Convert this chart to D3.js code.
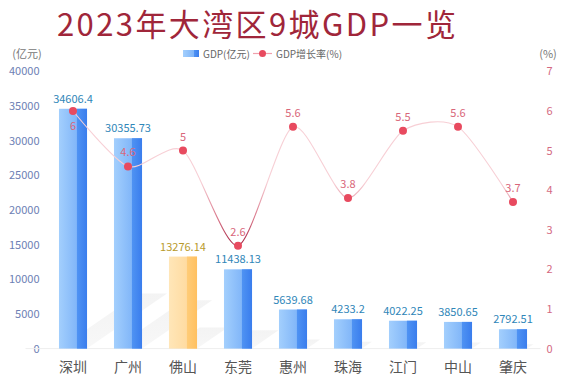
<!DOCTYPE html>
<html><head><meta charset="utf-8">
<script src="https://cdn.jsdelivr.net/npm/d3@7"></script>
<style>body{margin:0;background:#fff}svg{display:block}</style>
</head><body>
<svg id="c" width="567" height="378"></svg>
<script>
const cities = ["深圳","广州","佛山","东莞","惠州","珠海","江门","中山","肇庆"];
const gdp = [34606.4,30355.73,13276.14,11438.13,5639.68,4233.2,4022.25,3850.65,2792.51];
const growth = [6,4.6,5,2.6,5.6,3.8,5.5,5.6,3.7];
const leftTicks = [0,5000,10000,15000,20000,25000,30000,35000,40000];
const rightTicks = [0,1,2,3,4,5,6,7];
const highlight = "佛山";

const F = "'Noto Sans CJK SC','Noto Sans',sans-serif";
const svg = d3.select("#c");
const L=45.5, R=540.5, T=71.4, B=348.6;

const x = d3.scaleBand().domain(cities).range([L,R]).paddingInner(0.49).paddingOuter(0.245);
const y = d3.scaleLinear().domain([0,40000]).range([B,T]);
const y2 = d3.scaleLinear().domain([0,7]).range([B,T]);

const defs = svg.append("defs");
function hgrad(id,c0,c1){const g=defs.append("linearGradient").attr("id",id).attr("x1",0).attr("x2",1).attr("y1",0).attr("y2",0);
 g.append("stop").attr("offset",0).attr("stop-color",c0);g.append("stop").attr("offset",1).attr("stop-color",c1);}
hgrad("bL","#a3cffd","#6ea8f6");
hgrad("bR","#4f93f3","#3a7ded");
hgrad("oL","#ffe6b8","#ffd594");
hgrad("oR","#ffcc78","#ffc060");
const sg=defs.append("linearGradient").attr("id","sh").attr("x1",0).attr("x2",0).attr("y1",1).attr("y2",0);
sg.append("stop").attr("offset",0).attr("stop-color","#e4e4e4").attr("stop-opacity",0.35);
sg.append("stop").attr("offset",1).attr("stop-color","#ececec").attr("stop-opacity",0.8);
const lg=defs.append("linearGradient").attr("id","lg").attr("gradientUnits","userSpaceOnUse").attr("x1",0).attr("x2",0).attr("y1",y2(2.5)).attr("y2",y2(4.2));
lg.append("stop").attr("offset",0).attr("stop-color","#9c1535");
lg.append("stop").attr("offset",0.45).attr("stop-color","#d87488");
lg.append("stop").attr("offset",1).attr("stop-color","#f7cfd5");

// title
svg.append("text").attr("x",57).attr("y",36).attr("font-family",F).attr("letter-spacing",2.4)
 .attr("font-size",31).attr("fill","#a0263a").text("2023年大湾区9城GDP一览");

// axis names
svg.append("text").attr("x",27).attr("y",57.5).attr("text-anchor","middle").attr("font-family",F).attr("font-size",11).attr("fill","#777").text("(亿元)");
svg.append("text").attr("x",548).attr("y",57.5).attr("text-anchor","middle").attr("font-family",F).attr("font-size",11).attr("fill","#777").text("(%)");

// legend
svg.append("rect").attr("x",183).attr("y",50).attr("width",16).attr("height",7).attr("fill","url(#bL)");
svg.append("rect").attr("x",194).attr("y",50).attr("width",5).attr("height",7).attr("fill","url(#bR)");
svg.append("text").attr("x",203).attr("y",57.5).attr("font-family",F).attr("font-size",10).attr("fill","#666").text("GDP(亿元)");
svg.append("line").attr("x1",253).attr("x2",272).attr("y1",53.5).attr("y2",53.5).attr("stroke","#f0a0ac").attr("stroke-width",1.2);
svg.append("circle").attr("cx",262.5).attr("cy",53.5).attr("r",3.5).attr("fill","#e84a5f");
svg.append("text").attr("x",276).attr("y",57.5).attr("font-family",F).attr("font-size",10).attr("fill","#666").text("GDP增长率(%)");

// left axis
const la = svg.append("g").attr("transform",`translate(${L},0)`)
 .call(d3.axisLeft(y).tickValues(leftTicks).tickFormat(d3.format("d")).tickSize(0).tickPadding(6));
la.select(".domain").remove();
la.selectAll("text").attr("font-family",F).attr("font-size",11).attr("fill","#6d80b4");
// right axis
const ra = svg.append("g").attr("transform",`translate(${R},0)`)
 .call(d3.axisRight(y2).tickValues(rightTicks).tickFormat(d3.format("d")).tickSize(0).tickPadding(6));
ra.select(".domain").remove();
ra.selectAll("text").attr("font-family",F).attr("font-size",11).attr("fill","#d46a82");

// baseline
svg.append("line").attr("x1",L-20).attr("x2",R).attr("y1",B).attr("y2",B).attr("stroke","#eeeeee");

// shadows
const bw = x.bandwidth();
svg.append("g").selectAll("path").data(cities).join("path")
 .attr("d",(c,i)=>{const h=(B-y(gdp[i]))*0.23, dx=h*1.45, x0=x(c), x1=x0+bw;
   return `M${x0},${B}L${x1},${B}L${x1+dx},${B-h}L${x0+dx},${B-h}Z`;})
 .attr("fill","url(#sh)").attr("opacity",0.75);

// bars
const bars = svg.append("g");
cities.forEach((c,i)=>{
 const hl = c===highlight;
 const x0=x(c), top=y(gdp[i]);
 bars.append("rect").attr("x",x0).attr("y",top).attr("width",bw).attr("height",B-top).attr("fill",hl?"url(#oL)":"url(#bL)");
 bars.append("rect").attr("x",x0+bw*0.64).attr("y",top).attr("width",bw*0.36).attr("height",B-top).attr("fill",hl?"url(#oR)":"url(#bR)");
 bars.append("text").attr("x",x0+bw/2).attr("y",top-6).attr("text-anchor","middle").attr("font-family",F).attr("font-size",11)
  .attr("fill",hl?"#b89a2c":"#2f86b8").text(gdp[i]);
});

// x labels
svg.append("g").selectAll("text").data(cities).join("text")
 .attr("x",c=>x(c)+bw/2).attr("y",372).attr("text-anchor","middle").attr("font-family",F).attr("font-size",14).attr("fill","#555").text(c=>c);

// line
const pts = cities.map((c,i)=>[x(c)+bw/2, y2(growth[i])]);
svg.append("path").attr("d",d3.line().curve(d3.curveCardinal.tension(0.25))(pts)).attr("fill","none").attr("stroke","url(#lg)").attr("stroke-width",1.1);
svg.append("g").selectAll("circle").data(pts).join("circle").attr("cx",d=>d[0]).attr("cy",d=>d[1]).attr("r",4).attr("fill","#e84a5f");
svg.append("g").selectAll("text").data(growth).join("text")
 .attr("x",(d,i)=>pts[i][0]).attr("y",(d,i)=> i===0 ? pts[i][1]+19 : pts[i][1]-10)
 .attr("text-anchor","middle").attr("font-family",F).attr("font-size",11).attr("fill","#d9667a").text(d=>d);
</script>
</body></html>
